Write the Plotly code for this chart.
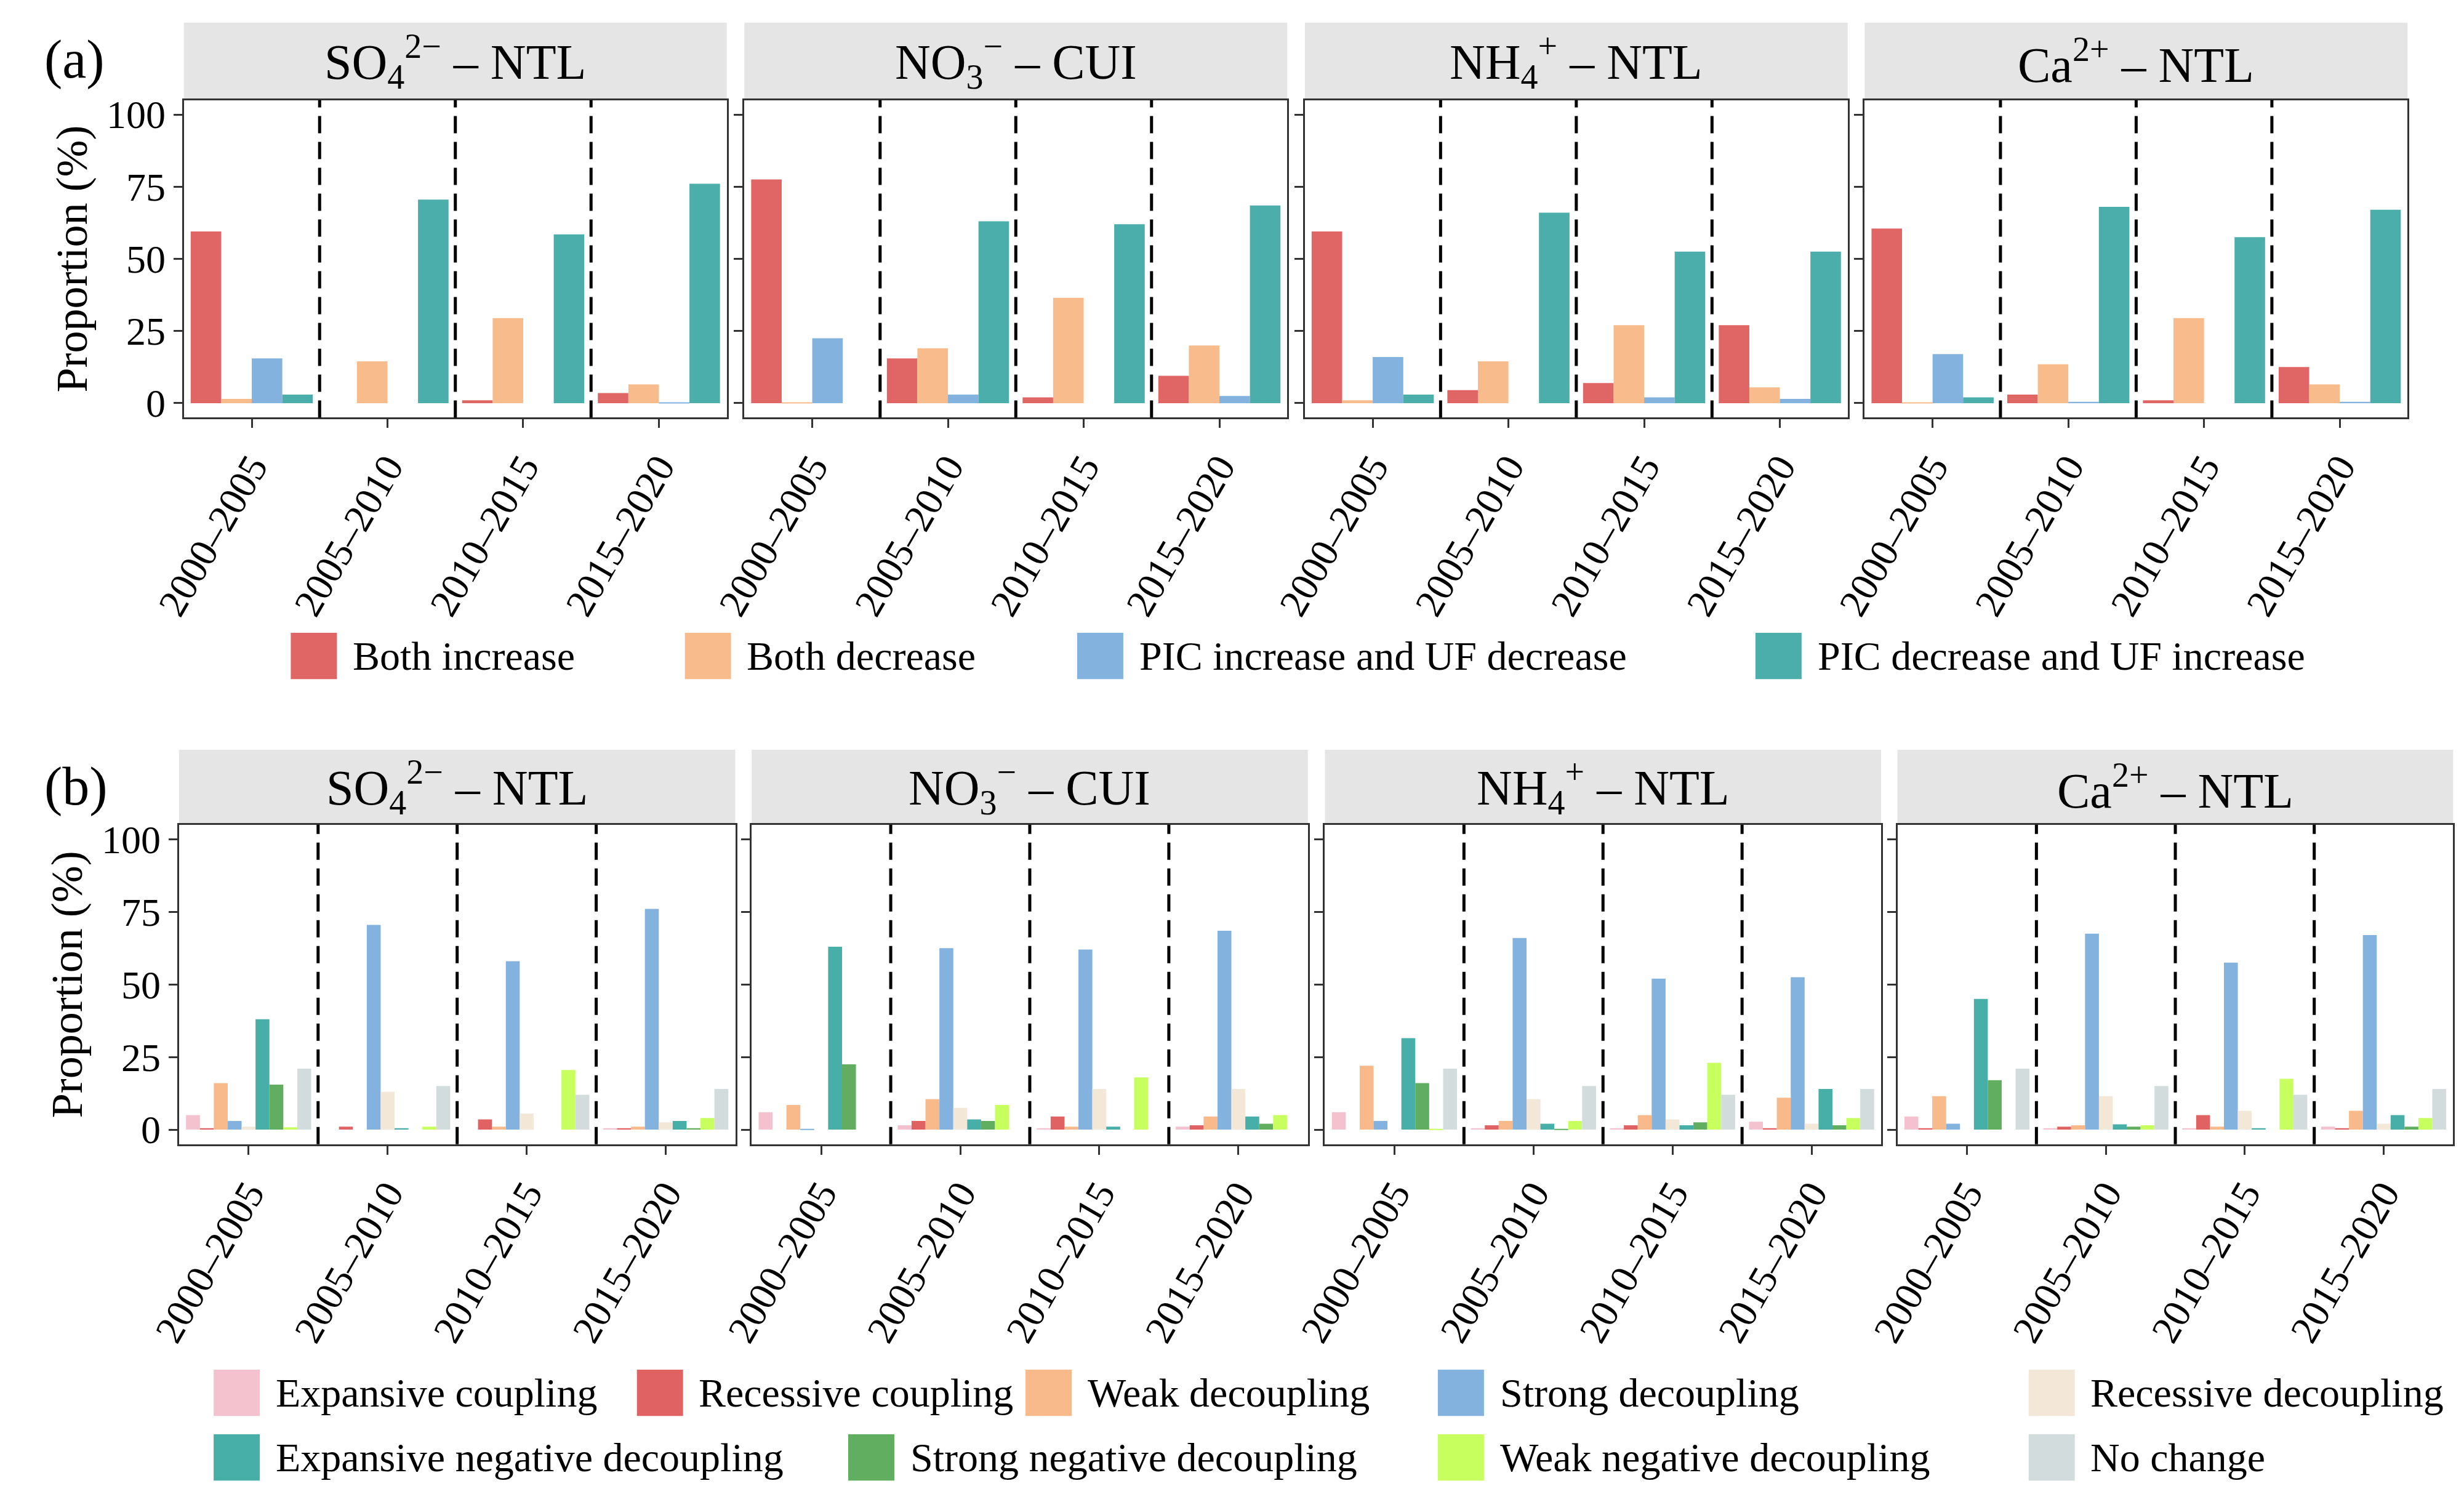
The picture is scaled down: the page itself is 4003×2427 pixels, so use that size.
import plotly.graph_objects as go

W, H = 4003, 2427
periods = ["2000–2005", "2005–2010", "2010–2015", "2015–2020"]
facets = ["SO<sub>4</sub><sup>2−</sup> – NTL", "NO<sub>3</sub><sup>−</sup> – CUI",
          "NH<sub>4</sub><sup>+</sup> – NTL", "Ca<sup>2+</sup> – NTL"]

# Panel (a): per facet, per category -> values over periods
a_cats = ["Both increase", "Both decrease", "PIC increase and UF decrease", "PIC decrease and UF increase"]
a_colors = ["#E06666", "#F8BC8C", "#82B2DD", "#4BAEAA"]
a_so4 = [[59.5, 0, 1, 3.5], [1.5, 14.5, 29.5, 6.5], [15.5, 0, 0, 0.3], [3, 70.5, 58.5, 76]]
a_no3 = [[77.5, 15.5, 2, 9.5], [0.3, 19, 36.5, 20], [22.5, 3, 0, 2.5], [0, 63, 62, 68.5]]
a_nh4 = [[59.5, 4.5, 7, 27], [1, 14.5, 27, 5.5], [16, 0, 2, 1.5], [3, 66, 52.5, 52.5]]
a_ca = [[60.5, 3, 1, 12.5], [0.3, 13.5, 29.5, 6.5], [17, 0.5, 0, 0.5], [2, 68, 57.5, 67]]
a_data = [a_so4, a_no3, a_nh4, a_ca]

# Panel (b)
b_cats = ["Expansive coupling", "Recessive coupling", "Weak decoupling", "Strong decoupling",
          "Recessive decoupling", "Expansive negative decoupling", "Strong negative decoupling",
          "Weak negative decoupling", "No change"]
b_colors = ["#F4C2CE", "#E06262", "#F8BA8A", "#82B2DD", "#F3E7D8", "#48AEA8", "#62AE60", "#C7FF5F", "#D3DCDC"]
b_so4 = [[5, 0, 0, 0.5], [0.5, 1, 3.5, 0.5], [16, 0, 1, 1], [3, 70.5, 58, 76], [1, 13, 5.5, 2.5],
         [38, 0.5, 0, 3], [15.5, 0, 0, 0.5], [0.8, 1, 20.5, 4], [21, 15, 12, 14]]
b_no3 = [[6, 1.5, 0.5, 1], [0, 3, 4.5, 1.5], [8.5, 10.5, 1, 4.5], [0.3, 62.5, 62, 68.5], [0, 7.5, 14, 14],
         [63, 3.5, 1, 4.5], [22.5, 3, 0, 2], [0, 8.5, 18, 5], [0, 0, 0, 0]]
b_nh4 = [[6, 0.5, 0.5, 2.7], [0, 1.5, 1.5, 0.5], [22, 3, 5, 11], [3, 66, 52, 52.5], [0, 10.5, 3.5, 2],
         [31.5, 2, 1.5, 14], [16, 0.3, 2.5, 1.5], [0.3, 3, 23, 4], [21, 15, 12, 14]]
b_ca = [[4.5, 0.5, 0.5, 1], [0.5, 1, 5, 0.5], [11.5, 1.5, 1, 6.5], [2, 67.5, 57.5, 67], [0, 11.5, 6.5, 2],
        [45, 1.8, 0.5, 5], [17, 1, 0, 1], [0, 1.5, 17.5, 4], [21, 15, 12, 14]]
b_data = [b_so4, b_no3, b_nh4, b_ca]

FONT = "Liberation Serif, serif"
fig = go.Figure()
layout = dict(width=W, height=H, margin=dict(l=0, r=0, t=0, b=0), paper_bgcolor="white",
              plot_bgcolor="white", barmode="group", bargap=0.1, bargroupgap=0,
              showlegend=False, font=dict(family=FONT, color="black"))
shapes, annots = [], []

panels = [
    dict(data=a_data, cats=a_cats, colors=a_colors, xs=[(240, 1134), (1163, 2057), (2086, 2980), (3008, 3902)],
         strip=(18, 145), plot=(145, 666), label="(a)", fs=64),
    dict(data=b_data, cats=b_cats, colors=b_colors, xs=[(232, 1148), (1175, 2091), (2119, 3035), (3062, 3977)],
         strip=(1211, 1334), plot=(1334, 1858), label="(b)", fs=64),
]
n = 0
for p in panels:
    for fi in range(4):
        n += 1
        xa = "x" if n == 1 else f"x{n}"
        ya = "y" if n == 1 else f"y{n}"
        x0, x1 = p["xs"][fi]
        for ci, cat in enumerate(p["cats"]):
            fig.add_trace(go.Bar(x=periods, y=p["data"][fi][ci], name=cat, marker_color=p["colors"][ci],
                                 marker_line_width=0, xaxis=xa, yaxis=ya))
        layout["xaxis" if n == 1 else f"xaxis{n}"] = dict(
            domain=[x0 / W, x1 / W], anchor=ya, showline=True, mirror=True, linecolor="#333333", linewidth=3,
            ticks="outside", ticklen=14, tickwidth=3, tickcolor="#333333", tickangle=-60,
            tickfont=dict(size=p["fs"], family=FONT, color="black"), showgrid=False,
            categoryorder="array", categoryarray=periods)
        layout["yaxis" if n == 1 else f"yaxis{n}"] = dict(
            domain=[1 - p["plot"][1] / H, 1 - p["plot"][0] / H], anchor=xa, range=[-5, 105],
            showline=True, mirror=True, linecolor="#333333", linewidth=3, showgrid=False, zeroline=False,
            tickvals=[0, 25, 50, 75, 100], ticks="outside", ticklen=14, tickwidth=3, tickcolor="#333333",
            showticklabels=(fi == 0), tickfont=dict(size=p["fs"], family=FONT, color="black"),
            title=dict(text="Proportion (%)", font=dict(size=72, family=FONT), standoff=8) if fi == 0 else None)
        for xv in [0.5, 1.5, 2.5]:
            shapes.append(dict(type="line", xref=xa, yref=f"{ya} domain", x0=xv, x1=xv, y0=0, y1=1,
                               line=dict(color="black", width=5, dash="28px,14px")))
        shapes.append(dict(type="rect", xref="paper", yref="paper", x0=x0 / W, x1=x1 / W,
                           y0=1 - p["strip"][1] / H, y1=1 - p["strip"][0] / H,
                           fillcolor="#E5E5E5", line_width=0, layer="below"))
        annots.append(dict(text=facets[fi], xref="paper", yref="paper", x=(x0 + x1) / 2 / W,
                           y=1 - (p["strip"][0] + p["strip"][1]) / 2 / H, showarrow=False,
                           font=dict(size=80, family=FONT), xanchor="center", yanchor="middle"))
    annots.append(dict(text=p["label"], xref="paper", yref="paper", x=0.002, y=1 - (p["strip"][0] + 60) / H,
                       showarrow=False, font=dict(size=88, family=FONT), xanchor="left", yanchor="middle"))

# manual legends
def legend_item(x, y, color, text):
    shapes.append(dict(type="rect", xref="paper", yref="paper", x0=x / W, x1=(x + 76) / W,
                       y0=1 - (y + 38) / H, y1=1 - (y - 38) / H, fillcolor=color, line_width=0))
    annots.append(dict(text=text, xref="paper", yref="paper", x=(x + 100) / W, y=1 - y / H, showarrow=False,
                       xanchor="left", yanchor="middle", font=dict(size=66, family=FONT)))

for x, c, t in zip([416, 1065, 1711, 2828], a_colors, a_cats):
    legend_item(x, 1057, c, t)
bx = [289, 986, 1626, 2305, 3278, 289, 1334, 2305, 3278]
by = [2266] * 5 + [2372] * 4
for x, y, c, t in zip(bx, by, b_colors, b_cats):
    legend_item(x, y, c, t)

layout["shapes"] = shapes
layout["annotations"] = annots
fig.update_layout(**layout)
fig.write_html("out.html")
